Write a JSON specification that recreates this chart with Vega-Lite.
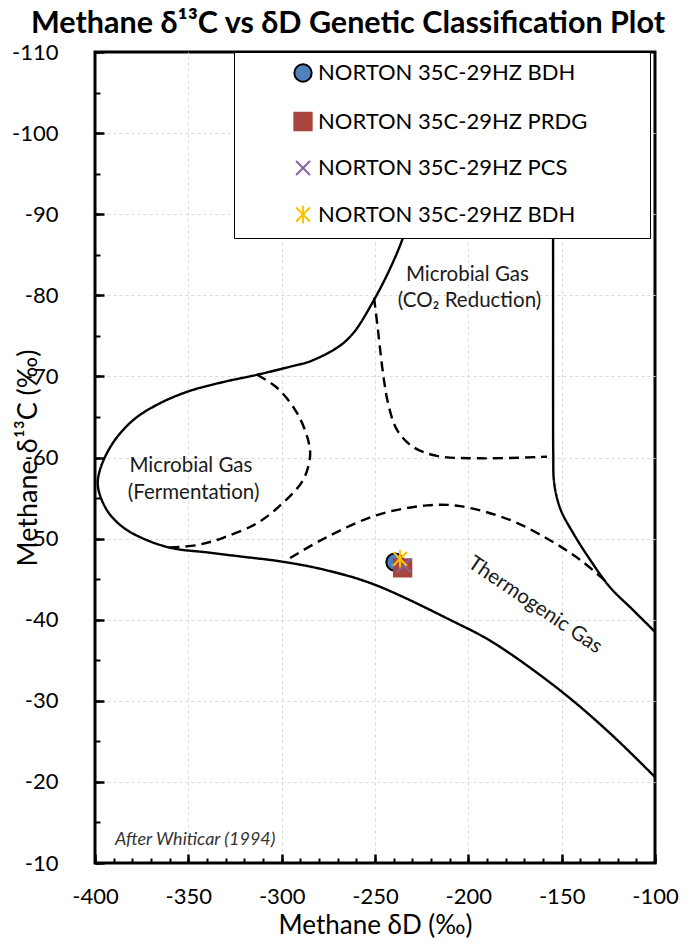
{
  "$schema": "https://vega.github.io/schema/vega-lite/v6.json",
  "width": 560,
  "height": 811,
  "autosize": {"type": "none"},
  "padding": {"left": 95, "top": 52, "right": 42, "bottom": 80},
  "background": "white",
  "config": {
    "font": "Lato",
    "view": {"stroke": "black", "strokeWidth": 3},
    "axis": {"labelFont": "Lato", "titleFont": "Lato", "labelColor": "black", "titleColor": "black"}
  },
  "title": {
    "text": "Methane δ¹³C vs δD Genetic Classification Plot",
    "font": "Lato",
    "fontSize": 30.5,
    "fontWeight": "bold",
    "color": "black",
    "anchor": "middle",
    "dx": -27,
    "offset": 2
  },
  "resolve": {"axis": {"x": "independent", "y": "independent"}},
  "datasets": {
    "curves": [
      {"curve": "outer", "kind": "solid", "i": 1, "x": -215.2, "y": -110},
      {"curve": "outer", "kind": "solid", "i": 2, "x": -220.5, "y": -101.6},
      {"curve": "outer", "kind": "solid", "i": 3, "x": -227.0, "y": -94.2},
      {"curve": "outer", "kind": "solid", "i": 4, "x": -235.0, "y": -87.1},
      {"curve": "outer", "kind": "solid", "i": 5, "x": -251.1, "y": -79.2},
      {"curve": "outer", "kind": "solid", "i": 6, "x": -265.0, "y": -74.5},
      {"curve": "outer", "kind": "solid", "i": 7, "x": -283.2, "y": -72.0},
      {"curve": "outer", "kind": "solid", "i": 8, "x": -295.5, "y": -71.2},
      {"curve": "outer", "kind": "solid", "i": 9, "x": -313.2, "y": -70.2},
      {"curve": "outer", "kind": "solid", "i": 10, "x": -331.4, "y": -69.3},
      {"curve": "outer", "kind": "solid", "i": 11, "x": -350.7, "y": -68.1},
      {"curve": "outer", "kind": "solid", "i": 12, "x": -366.8, "y": -66.5},
      {"curve": "outer", "kind": "solid", "i": 13, "x": -379.6, "y": -64.6},
      {"curve": "outer", "kind": "solid", "i": 14, "x": -390.4, "y": -61.8},
      {"curve": "outer", "kind": "solid", "i": 15, "x": -397.3, "y": -58.5},
      {"curve": "outer", "kind": "solid", "i": 16, "x": -398.4, "y": -56.4},
      {"curve": "outer", "kind": "solid", "i": 17, "x": -393.6, "y": -53.5},
      {"curve": "outer", "kind": "solid", "i": 18, "x": -385.0, "y": -51.4},
      {"curve": "outer", "kind": "solid", "i": 19, "x": -372.1, "y": -49.8},
      {"curve": "outer", "kind": "solid", "i": 20, "x": -358.2, "y": -48.8},
      {"curve": "outer", "kind": "solid", "i": 21, "x": -340.0, "y": -48.3},
      {"curve": "outer", "kind": "solid", "i": 22, "x": -322.3, "y": -47.8},
      {"curve": "outer", "kind": "solid", "i": 23, "x": -300.9, "y": -47.2},
      {"curve": "outer", "kind": "solid", "i": 24, "x": -277.9, "y": -46.2},
      {"curve": "outer", "kind": "solid", "i": 25, "x": -251.1, "y": -44.4},
      {"curve": "outer", "kind": "solid", "i": 26, "x": -208.2, "y": -39.8},
      {"curve": "outer", "kind": "solid", "i": 27, "x": -186.8, "y": -37.2},
      {"curve": "outer", "kind": "solid", "i": 28, "x": -150.9, "y": -31.3},
      {"curve": "outer", "kind": "solid", "i": 29, "x": -124.1, "y": -26.0},
      {"curve": "outer", "kind": "solid", "i": 30, "x": -100.0, "y": -20.6},
      {"curve": "right", "kind": "solid", "i": 1, "x": -154.6, "y": -110},
      {"curve": "right", "kind": "solid", "i": 2, "x": -154.6, "y": -90},
      {"curve": "right", "kind": "solid", "i": 3, "x": -154.6, "y": -75},
      {"curve": "right", "kind": "solid", "i": 4, "x": -154.6, "y": -66},
      {"curve": "right", "kind": "solid", "i": 5, "x": -154.5, "y": -60.5},
      {"curve": "right", "kind": "solid", "i": 6, "x": -154.0, "y": -56.8},
      {"curve": "right", "kind": "solid", "i": 7, "x": -150.6, "y": -53.6},
      {"curve": "right", "kind": "solid", "i": 8, "x": -143.9, "y": -50.7},
      {"curve": "right", "kind": "solid", "i": 9, "x": -134.8, "y": -47.4},
      {"curve": "right", "kind": "solid", "i": 10, "x": -124.1, "y": -44.0},
      {"curve": "right", "kind": "solid", "i": 11, "x": -111.8, "y": -41.2},
      {"curve": "right", "kind": "solid", "i": 12, "x": -100.0, "y": -38.5},
      {"curve": "ferm", "kind": "dashed", "i": 1, "x": -313.2, "y": -70.2},
      {"curve": "ferm", "kind": "dashed", "i": 2, "x": -302.5, "y": -68.6},
      {"curve": "ferm", "kind": "dashed", "i": 3, "x": -291.8, "y": -65.5},
      {"curve": "ferm", "kind": "dashed", "i": 4, "x": -285.9, "y": -62.2},
      {"curve": "ferm", "kind": "dashed", "i": 5, "x": -284.8, "y": -60.1},
      {"curve": "ferm", "kind": "dashed", "i": 6, "x": -288.6, "y": -57.2},
      {"curve": "ferm", "kind": "dashed", "i": 7, "x": -299.3, "y": -54.4},
      {"curve": "ferm", "kind": "dashed", "i": 8, "x": -313.2, "y": -51.9},
      {"curve": "ferm", "kind": "dashed", "i": 9, "x": -331.4, "y": -50.1},
      {"curve": "ferm", "kind": "dashed", "i": 10, "x": -345.4, "y": -49.2},
      {"curve": "ferm", "kind": "dashed", "i": 11, "x": -359.8, "y": -48.9},
      {"curve": "co2", "kind": "dashed", "i": 1, "x": -250.5, "y": -79.7},
      {"curve": "co2", "kind": "dashed", "i": 2, "x": -248.4, "y": -75.7},
      {"curve": "co2", "kind": "dashed", "i": 3, "x": -245.7, "y": -70.4},
      {"curve": "co2", "kind": "dashed", "i": 4, "x": -243.0, "y": -66.7},
      {"curve": "co2", "kind": "dashed", "i": 5, "x": -238.2, "y": -63.4},
      {"curve": "co2", "kind": "dashed", "i": 6, "x": -229.6, "y": -61.3},
      {"curve": "co2", "kind": "dashed", "i": 7, "x": -216.8, "y": -60.2},
      {"curve": "co2", "kind": "dashed", "i": 8, "x": -193.8, "y": -59.9},
      {"curve": "co2", "kind": "dashed", "i": 9, "x": -157.9, "y": -60.1},
      {"curve": "thermo", "kind": "dashed", "i": 1, "x": -295.5, "y": -47.6},
      {"curve": "thermo", "kind": "dashed", "i": 2, "x": -275.7, "y": -50.2},
      {"curve": "thermo", "kind": "dashed", "i": 3, "x": -248.9, "y": -52.9},
      {"curve": "thermo", "kind": "dashed", "i": 4, "x": -222.1, "y": -54.1},
      {"curve": "thermo", "kind": "dashed", "i": 5, "x": -204.4, "y": -54.0},
      {"curve": "thermo", "kind": "dashed", "i": 6, "x": -177.7, "y": -52.3},
      {"curve": "thermo", "kind": "dashed", "i": 7, "x": -156.3, "y": -49.8},
      {"curve": "thermo", "kind": "dashed", "i": 8, "x": -140.2, "y": -47.4},
      {"curve": "thermo", "kind": "dashed", "i": 9, "x": -125.7, "y": -44.6}
    ],
    "labels": [
      {"x": -348.6, "y": -59.0, "text": "Microbial Gas"},
      {"x": -347.2, "y": -55.6, "text": "(Fermentation)"},
      {"x": -200.5, "y": -82.5, "text": "Microbial Gas"},
      {"x": -199.4, "y": -79.3, "text": "(CO₂ Reduction)"}
    ],
    "thermo": [
      {"x": -164.3, "y": -41.8, "text": "Thermogenic Gas"}
    ],
    "credit": [
      {"x": -389.3, "y": -12.8, "text": "After Whiticar (1994)"}
    ],
    "points": [
      {"series": "NORTON 35C-29HZ BDH", "dD": -239.3, "d13C": -47.1},
      {"series": "NORTON 35C-29HZ PRDG", "dD": -235.2, "d13C": -46.4},
      {"series": "NORTON 35C-29HZ PCS", "dD": -234.5, "d13C": -46.7},
      {"series": "NORTON 35C-29HZ BDH #2", "dD": -236.6, "d13C": -47.5}
    ]
  },
  "layer": [
    {
      "data": {"name": "curves"},
      "mark": {"type": "line", "interpolate": "catmull-rom", "color": "black", "strokeWidth": 2.4, "clip": true},
      "encoding": {
        "x": {
          "field": "x", "type": "quantitative",
          "scale": {"domain": [-400, -100], "nice": false, "zero": false},
          "axis": {
            "orient": "bottom",
            "title": null,
            "values": [-350, -300, -250, -200, -150],
            "labels": false,
            "ticks": false,
            "domain": false,
            "grid": true,
            "gridColor": "#d9d9d9",
            "gridDash": [3, 3],
            "gridWidth": 1
          }
        },
        "y": {
          "field": "y", "type": "quantitative",
          "scale": {"domain": [-110, -10], "nice": false, "zero": false, "reverse": true},
          "axis": {
            "orient": "left",
            "title": null,
            "values": [-100, -90, -80, -70, -60, -50, -40, -30, -20],
            "labels": false,
            "ticks": false,
            "domain": false,
            "grid": true,
            "gridColor": "#d9d9d9",
            "gridDash": [3, 3],
            "gridWidth": 1
          }
        },
        "order": {"field": "i", "type": "quantitative"},
        "detail": {"field": "curve", "type": "nominal"},
        "strokeDash": {
          "field": "kind", "type": "nominal",
          "scale": {"domain": ["solid", "dashed"], "range": [[1, 0], [10, 6]]},
          "legend": null
        }
      }
    },
    {
      "data": {"name": "labels"},
      "mark": {"type": "text", "fontSize": 20.5, "font": "Lato", "color": "#1a1a1a", "align": "center", "baseline": "middle"},
      "encoding": {
        "x": {
          "field": "x", "type": "quantitative",
          "axis": {
            "orient": "bottom",
            "offset": -9,
            "zindex": 1,
            "title": "Methane δD (‰)",
            "titleFontSize": 26,
            "titleFontWeight": "normal",
            "titleY": 71,
            "titleBaseline": "middle",
            "values": [-400, -350, -300, -250, -200, -150, -100],
            "labelExpr": "'' + datum.value",
            "labelFontSize": 22,
            "labelPadding": 23,
            "labelOverlap": false,
            "labelFlush": false,
            "ticks": true,
            "tickSize": 9,
            "tickColor": "black",
            "tickWidth": 2.5,
            "domain": false,
            "grid": false
          }
        },
        "y": {
          "field": "y", "type": "quantitative",
          "axis": {
            "orient": "left",
            "offset": -9,
            "zindex": 1,
            "title": "Methane  δ¹³C (‰)",
            "titleFontSize": 27,
            "titleFontWeight": "normal",
            "titleX": -76,
            "titleBaseline": "middle",
            "values": [-110, -100, -90, -80, -70, -60, -50, -40, -30, -20, -10],
            "labelExpr": "'' + datum.value",
            "labelFontSize": 22,
            "labelPadding": 37,
            "labelOverlap": false,
            "labelFlush": false,
            "ticks": true,
            "tickSize": 9,
            "tickColor": "black",
            "tickWidth": 2.5,
            "domain": false,
            "grid": false
          }
        },
        "text": {"field": "text"}
      }
    },
    {
      "data": {"name": "thermo"},
      "mark": {"type": "text", "fontSize": 20.5, "font": "Lato", "color": "#1a1a1a", "align": "center", "baseline": "middle", "angle": 34},
      "encoding": {
        "x": {
          "field": "x", "type": "quantitative",
          "axis": {
            "orient": "bottom",
            "offset": -5,
            "zindex": 1,
            "title": null,
            "values": [-400,-390,-380,-370,-360,-350,-340,-330,-320,-310,-300,-290,-280,-270,-260,-250,-240,-230,-220,-210,-200,-190,-180,-170,-160,-150,-140,-130,-120,-110,-100],
            "labels": false,
            "domain": false,
            "grid": false,
            "ticks": true,
            "tickSize": 5,
            "tickColor": "black",
            "tickWidth": 2
          }
        },
        "y": {
          "field": "y", "type": "quantitative",
          "axis": {
            "orient": "left",
            "offset": -5,
            "zindex": 1,
            "title": null,
            "values": [-110,-105,-100,-95,-90,-85,-80,-75,-70,-65,-60,-55,-50,-45,-40,-35,-30,-25,-20,-15,-10],
            "labels": false,
            "domain": false,
            "grid": false,
            "ticks": true,
            "tickSize": 5,
            "tickColor": "black",
            "tickWidth": 2
          }
        },
        "text": {"field": "text"}
      }
    },
    {
      "data": {"name": "credit"},
      "mark": {"type": "text", "fontSize": 18, "font": "Lato", "fontStyle": "italic", "color": "#333333", "align": "left", "baseline": "middle"},
      "encoding": {
        "x": {"field": "x", "type": "quantitative", "axis": null},
        "y": {"field": "y", "type": "quantitative", "axis": null},
        "text": {"field": "text"}
      }
    },
    {
      "data": {"name": "points"},
      "mark": {"type": "point", "size": 300, "strokeWidth": 2, "opacity": 1},
      "encoding": {
        "x": {"field": "dD", "type": "quantitative", "axis": null},
        "y": {"field": "d13C", "type": "quantitative", "axis": null},
        "shape": {
          "field": "series", "type": "nominal",
          "scale": {
            "domain": ["NORTON 35C-29HZ BDH", "NORTON 35C-29HZ PRDG", "NORTON 35C-29HZ PCS", "NORTON 35C-29HZ BDH #2"],
            "range": ["circle", "square", "M-0.8,-0.8L0.8,0.8M-0.8,0.8L0.8,-0.8", "M-0.8,-0.8L0.8,0.8M-0.8,0.8L0.8,-0.8M0,-1L0,1"]
          },
          "legend": {
            "orient": "none",
            "legendX": 139,
            "legendY": 0,
            "title": "MMM",
            "titleOrient": "right",
            "titleOpacity": 0,
            "titleFontSize": 16,
            "titlePadding": 7,
            "fillColor": "white",
            "strokeColor": "black",
            "padding": 10,
            "symbolOffset": 48,
            "symbolSize": 300,
            "symbolStrokeWidth": 2,
            "labelFont": "Lato",
            "labelFontSize": 22,
            "labelColor": "black",
            "labelOffset": 4,
            "labelLimit": 700,
            "rowPadding": 22.5,
            "labelExpr": "replace(datum.label, ' #2', '')",
            "encode": {"legend": {"update": {"strokeWidth": {"value": 2}}}}
          }
        },
        "fill": {
          "field": "series", "type": "nominal",
          "scale": {
            "domain": ["NORTON 35C-29HZ BDH", "NORTON 35C-29HZ PRDG", "NORTON 35C-29HZ PCS", "NORTON 35C-29HZ BDH #2"],
            "range": ["#4F81BD", "#A8453F", "transparent", "transparent"]
          }
        },
        "stroke": {
          "field": "series", "type": "nominal",
          "scale": {
            "domain": ["NORTON 35C-29HZ BDH", "NORTON 35C-29HZ PRDG", "NORTON 35C-29HZ PCS", "NORTON 35C-29HZ BDH #2"],
            "range": ["black", "#A8453F", "#8064A2", "#FFC000"]
          }
        }
      }
    }
  ]
}
